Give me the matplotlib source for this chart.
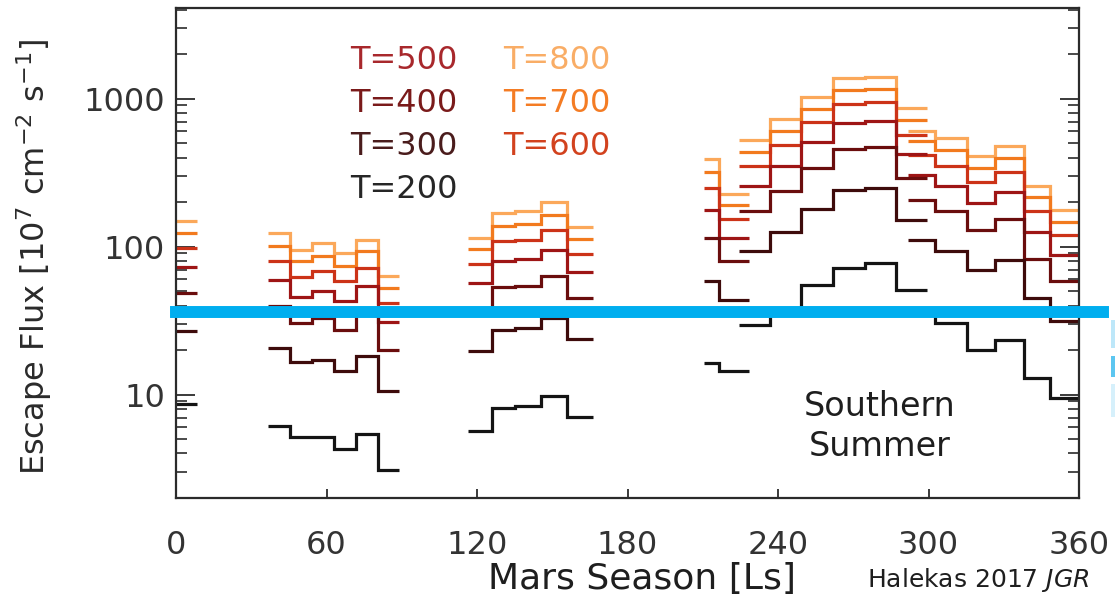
import numpy as np
import matplotlib
matplotlib.use("Agg")
import matplotlib.pyplot as plt
from matplotlib.patches import Rectangle
from matplotlib.ticker import NullFormatter

# temperatures, low to high; every flux list below follows this order
temps = [200, 300, 400, 500, 600, 700, 800]
line_colors = ['#141414', '#3e0b0b', '#6a0d0d', '#9e1515', '#cc3318', '#f27a1e', '#fba85a']

# bin edges (Ls, deg) of each data segment
edges_a = [0.0, 8.4]
edges_b = [36.7, 45.5, 54.2, 63.0, 71.8, 80.5, 88.9]
edges_c = [116.6, 125.8, 135.2, 145.5, 155.7, 166.1]
edges_d = [210.3, 216.3, 228.6]
edges_e = [224.6, 236.8, 249.2, 262.1, 274.7, 287.1, 299.3]
edges_f = [292.0, 302.6, 315.3, 326.6, 337.9, 348.5, 359.8]

# escape flux [1e7 cm-2 s-1], rows = T=200 ... T=800
flux_a = [[8.7], [27.1], [48.9], [73.3], [98.5], [124], [148]]
flux_b = [[6.11, 5.15, 5.15, 4.30, 5.45, 3.11],
          [20.7, 16.5, 17.2, 14.4, 18.2, 10.6],
          [39.9, 30.5, 33.0, 27.2, 36.6, 20.1],
          [59.8, 45.7, 49.9, 42.7, 54.0, 30.8],
          [79.6, 62.1, 68.1, 58.3, 71.8, 41.6],
          [100.5, 80.4, 86.0, 73.6, 93.0, 52.6],
          [123.7, 95.4, 105.9, 90.6, 111.5, 63.0]]
flux_c = [[5.65, 8.12, 8.34, 9.74, 7.03],
          [19.6, 27.5, 28.2, 33.0, 23.8],
          [37.0, 53.4, 54.5, 63.0, 45.0],
          [56.8, 80.4, 82.5, 95.4, 67.1],
          [76.8, 108.6, 111.5, 130.3, 89.7],
          [96.4, 137.2, 142.3, 164.5, 112.7],
          [114.4, 168.9, 173.3, 199.3, 135.1]]
flux_d = [[16.4, 14.4],
          [58.3, 43.9],
          [114, 79.6],
          [178, 114],
          [249, 154],
          [318, 190],
          [391, 227]]
flux_e = [[29.7, 37.1, 55.4, 71.8, 77.5, 51.2],
          [93.0, 125, 180, 243, 249, 152],
          [173, 236, 340, 457, 471, 291],
          [258, 353, 507, 685, 703, 423],
          [349, 489, 692, 925, 945, 571],
          [434, 602, 852, 1138, 1162, 721],
          [523, 729, 1026, 1379, 1401, 865]]
flux_f = [[35.6, 30.5, 20.1, 23.5, 13.0, 9.5],
          [111.5, 93.0, 69.2, 81.7, 45.0, 31.3],
          [206, 173, 129, 154, 82.5, 58.3],
          [307, 258, 197, 233, 126, 88.3],
          [418, 353, 272, 318, 173, 119],
          [515, 448, 340, 397, 217, 147],
          [608, 542, 408, 481, 258, 178]]

marker_level = 36.4
xticks = [0, 60, 120, 180, 240, 300, 360]
yticks = [10, 100, 1000]

W, H = 1115, 603
fig = plt.figure(figsize=(W / 100, H / 100), dpi=100)
ax = fig.add_axes([176 / W, 1 - 498 / H, (1079 - 176) / W, (498 - 8) / H])

segments = [(edges_a, flux_a), (edges_b, flux_b), (edges_c, flux_c),
            (edges_d, flux_d), (edges_e, flux_e), (edges_f, flux_f)]
for k in range(len(temps) - 1, -1, -1):
    for edges, flux in segments:
        ax.stairs(flux[k], edges, baseline=None, color=line_colors[k], lw=2.3, zorder=2 + (6 - k) * 0.01)

ax.set_yscale('log')
ax.set_xlim(0, 360)
ax.set_ylim(2, 4100)

ax.set_xticks(xticks)
ax.set_xticklabels([str(t) for t in xticks])
ax.set_yticks(yticks)
ax.set_yticklabels([str(t) for t in yticks])
ax.yaxis.set_minor_formatter(NullFormatter())

for s in ax.spines.values():
    s.set_color('#2b2b2b')
    s.set_linewidth(1.6)
ax.tick_params(axis='x', which='major', direction='in', length=6.5, width=1.3, color='#2b2b2b',
               labelsize=23, labelcolor='#333333', pad=23, top=False)
ax.tick_params(axis='x', which='minor', bottom=False, top=False)
ax.tick_params(axis='y', which='major', direction='in', length=14, width=1.3, color='#2b2b2b',
               labelsize=23, labelcolor='#333333', pad=8, left=True, right=True)
ax.tick_params(axis='y', which='minor', direction='in', length=8, width=1.2, color='#2b2b2b',
               left=True, right=True)

# blue marker line reaching past the right frame
ax.axhline(marker_level, xmin=0, xmax=1.027, color='#00aeef', lw=8.6, clip_on=False, zorder=6)
for y0, y1, c in [(320, 348, '#bde7f9'), (356, 377, '#5cc6f0'), (384, 417, '#d6f0fb')]:
    fig.add_artist(Rectangle((1111 / W, 1 - y1 / H), 4 / W, (y1 - y0) / H,
                             transform=fig.transFigure, color=c, lw=0))

# temperature labels
text_colors = ['#262626', '#4a1c1c', '#7a1a1a', '#a8282c', '#d2421e', '#f47c24', '#f9ad66']
left_col = [3, 2, 1, 0]
right_col = [6, 5, 4]
row_y = [0.893, 0.805, 0.717, 0.629]
for r, k in enumerate(left_col):
    ax.text(0.193, row_y[r], 'T=%d' % temps[k], transform=ax.transAxes, fontsize=23,
            color=text_colors[k], va='center', ha='left')
for r, k in enumerate(right_col):
    ax.text(0.362, row_y[r], 'T=%d' % temps[k], transform=ax.transAxes, fontsize=23,
            color=text_colors[k], va='center', ha='left')

ax.text(0.779, 0.146, 'Southern\nSummer', transform=ax.transAxes, fontsize=24,
        color='#1e1e1e', ha='center', va='center', linespacing=1.3)

fig.text(34 / W, 1 - 257 / H, r'Escape Flux $\left[10^7\ \mathrm{cm}^{-2}\ \mathrm{s}^{-1}\right]$',
         rotation=90, fontsize=23, color='#2a2a2a', ha='center', va='center')
fig.text(642 / W, 1 - 579 / H, 'Mars Season [Ls]', fontsize=26, color='#1e1e1e',
         ha='center', va='center')
fig.text(1090 / W, 1 - 580 / H, r'Halekas 2017 $\it{JGR}$', fontsize=18, color='#1e1e1e',
         ha='right', va='center')

fig.savefig('out.png', dpi=100)
